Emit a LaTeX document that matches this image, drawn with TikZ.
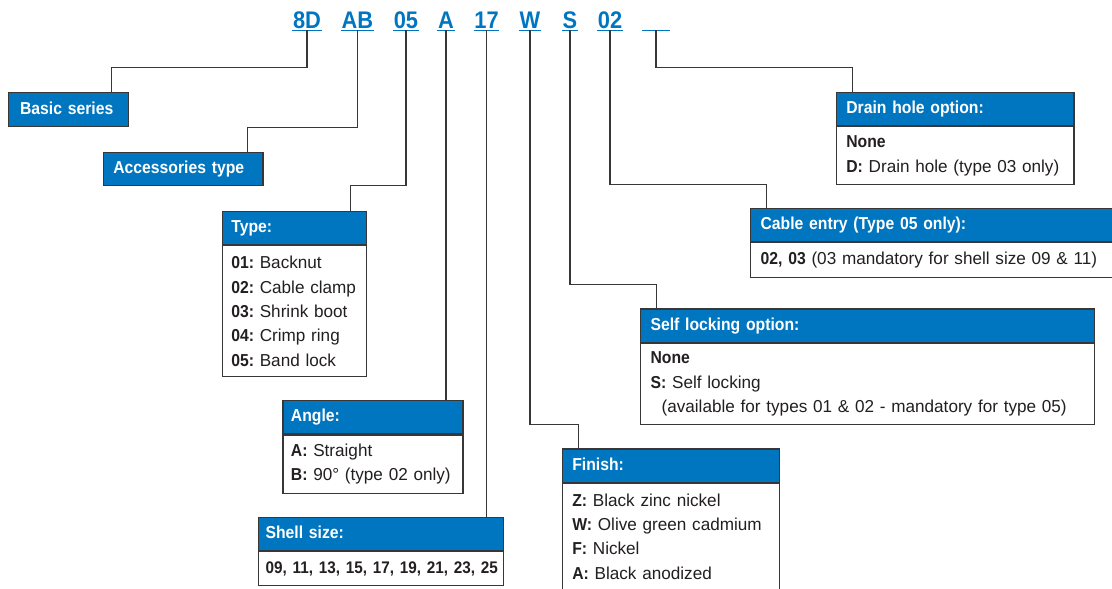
\documentclass[tikz,border=0pt]{standalone}
\usepackage{fontspec}
\setmainfont{Liberation Sans}[FakeStretch=0.99, BoldFeatures={FakeStretch=0.91}]
\usepackage{xcolor}
\usepackage{tikz}
\usetikzlibrary{positioning, calc}
\definecolor{amphblue}{RGB}{0, 118, 192}
\definecolor{framegray}{RGB}{55, 55, 55}
\definecolor{inkdark}{RGB}{35, 31, 32}
\frenchspacing

\begin{document}
\begin{tikzpicture}[x=1pt, y=-1pt]
    % Styles
    \tikzstyle{code} = [anchor=base, inner xsep=0.5pt, inner ysep=2pt, text depth=0pt, text=amphblue, font=\bfseries\fontsize{24}{24}\selectfont]
    \tikzstyle{uline} = [draw=amphblue, line width=1.3pt]
    \tikzstyle{head} = [rectangle, draw=framegray, line width=1.2pt, fill=amphblue, text=white, anchor=north west, minimum height=33.3pt, inner xsep=10pt, inner ysep=0pt, text height=12.5pt, text depth=3.5pt, align=left, font=\bfseries\fontsize{17.3}{20}\selectfont]
    \tikzstyle{body} = [rectangle, draw=framegray, line width=1.2pt, fill=white, text=inkdark, anchor=north west, inner xsep=10pt, inner ysep=0pt, align=left, font=\fontsize{17.3}{24.3}\selectfont]
    \tikzstyle{link} = [draw=framegray, line width=1.2pt]

    \useasboundingbox (0,0) rectangle (1112,589);

    % Code
    \node[code] (c8D) at (307,28) {8D};
    \node[code] (cAB) at (357.5,28) {AB};
    \node[code] (c05) at (406,28) {05};
    \node[code] (cA) at (446,28) {A};
    \node[code] (c17) at (486.5,28) {17};
    \node[code] (cW) at (530,28) {W};
    \node[code] (cS) at (570,28) {S};
    \node[code] (c02) at (610,28) {02};
    \node[code, minimum width=28pt] (cDH) at (656,28) {};
    \foreach \c in {c8D,cAB,c05,cA,c17,cW,cS,c02,cDH}
        \draw[uline] (\c.south west) -- (\c.south east);

    % Boxes
    \node[head, inner xsep=12pt, text width=96pt, minimum height=34.5pt] (basic) at (7.5,91.7) {Basic series};
    \node[head, text width=139.6pt] (acc) at (102.7,151.7) {Accessories type};

    \node[head, inner xsep=9pt, text width=126.3pt] (type) at (221.7,210.7) {Type:};
    \node[body, inner xsep=9pt, text width=126.3pt, minimum height=131pt] (typeb) at (type.south west)
        {\textbf{01:} Backnut\\\textbf{02:} Cable clamp\\\textbf{03:} Shrink boot\\\textbf{04:} Crimp ring\\\textbf{05:} Band lock};

    \node[head, inner xsep=8pt, text width=164pt] (angle) at (282.3,400) {Angle:};
    \node[body, inner xsep=8pt, text width=164pt, minimum height=58.3pt] (angleb) at (angle.south west)
        {\textbf{A:} Straight\\\textbf{B:} 90° (type 02 only)};

    \node[head, inner xsep=7pt, text width=230.7pt] (shell) at (258,516.7) {Shell size:};
    \node[body, inner xsep=7pt, text width=230.7pt, minimum height=33.3pt] (shellb) at (shell.south west)
        {\fontsize{16.8}{24}\selectfont\mbox{\textbf{09, 11, 13, 15, 17, 19, 21, 23, 25}}};

    \node[head, text width=197.3pt] (finish) at (561.7,448.3) {Finish:};
    \node[body, text width=197.3pt, minimum height=106.3pt] (finishb) at (finish.south west)
        {\textbf{Z:} Black zinc nickel\\\textbf{W:} Olive green cadmium\\\textbf{F:} Nickel\\\textbf{A:} Black anodized};

    \node[head, text width=434pt] (self) at (640,308.3) {Self locking option:};
    \node[body, text width=434pt, minimum height=81pt] (selfb) at (self.south west)
        {\textbf{None}\\\textbf{S:} Self locking\\\hspace*{11pt}(available for types 01 \& 02 - mandatory for type 05)};

    \node[head, text width=344pt] (cable) at (750,207.7) {Cable entry (Type 05 only):};
    \node[body, text width=344pt, minimum height=34.5pt] (cableb) at (cable.south west)
        {\textbf{02, 03} (03 mandatory for shell size 09 \& 11)};

    \node[head, text width=217.6pt] (drain) at (835.7,91.7) {Drain hole option:};
    \node[body, text width=217.6pt, minimum height=58pt] (drainb) at (drain.south west)
        {\textbf{None}\\\textbf{D:} Drain hole (type 03 only)};

    % Connections
    \draw[link] (c8D.south) -- ++(0,37) -| ([xshift=43.5pt]basic.north);
    \draw[link] (cAB.south) -- ++(0,97.5) -| ([xshift=64pt]acc.north);
    \draw[link] (c05.south) -- ++(0,155.5) -| ([xshift=56.15pt]type.north);
    \draw[link] (cA.south) -- (cA.south |- angle.north);
    \draw[link] (c17.south) -- (c17.south |- shell.north);
    \draw[link] (cW.south) -- ++(0,394) -| ([xshift=-92.35pt]finish.north);
    \draw[link] (cS.south) -- ++(0,254) -| ([xshift=-211pt]self.north);
    \draw[link] (c02.south) -- ++(0,154) -| ([xshift=-166pt]cable.north);
    \draw[link] (cDH.south) -- ++(0,37.5) -| ([xshift=-102.5pt]drain.north);
\end{tikzpicture}
\end{document}
